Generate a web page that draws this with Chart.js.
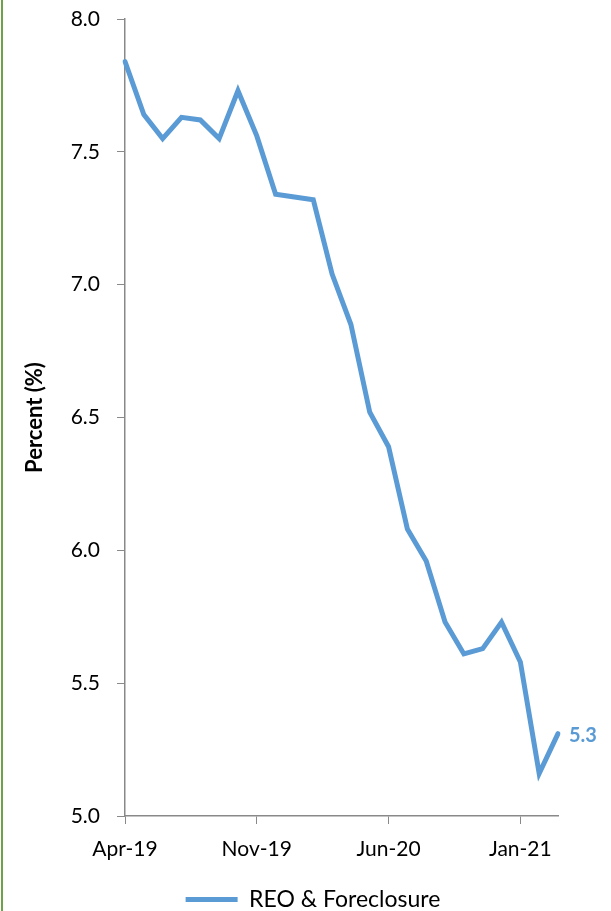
<!DOCTYPE html>
<html>
<head>
<meta charset="utf-8">
<script src="https://cdn.jsdelivr.net/npm/chart.js@4"></script>
<style>
  html, body { margin: 0; padding: 0; background: #fff; }
  #wrap { position: relative; width: 611px; height: 911px; }
  #edge { position: absolute; left: 1px; top: 0; width: 2px; height: 911px; background: #70a047; }
</style>
</head>
<body>
<div id="wrap">
  <canvas id="myChart" width="611" height="911"></canvas>
  <div id="edge"></div>
</div>
<script>
const months = [
  'Apr-19', 'May-19', 'Jun-19', 'Jul-19', 'Aug-19', 'Sep-19', 'Oct-19', 'Nov-19',
  'Dec-19', 'Jan-20', 'Feb-20', 'Mar-20', 'Apr-20', 'May-20', 'Jun-20', 'Jul-20',
  'Aug-20', 'Sep-20', 'Oct-20', 'Nov-20', 'Dec-20', 'Jan-21', 'Feb-21', 'Mar-21',
];
const reoForeclosure = [
  7.84, 7.64, 7.55, 7.63, 7.62, 7.55, 7.73, 7.56,
  7.34, 7.33, 7.32, 7.04, 6.85, 6.52, 6.39, 6.08,
  5.96, 5.73, 5.61, 5.63, 5.73, 5.58, 5.16, 5.31,
];
const yTicks = [5.0, 5.5, 6.0, 6.5, 7.0, 7.5, 8.0];
const seriesName = 'REO & Foreclosure';

const BLUE = '#5b9bd5';
const AXIS = '#898989';
const FONT = 'Lato';

// label next to last point
const endLabel = {
  id: 'endLabel',
  afterDatasetsDraw(chart) {
    const meta = chart.getDatasetMeta(0);
    const last = meta.data[meta.data.length - 1];
    const val = reoForeclosure[reoForeclosure.length - 1];
    const ctx = chart.ctx;
    ctx.save();
    ctx.font = `bold 20px ${FONT}`;
    ctx.fillStyle = BLUE;
    ctx.textAlign = 'left';
    ctx.textBaseline = 'middle';
    ctx.fillText(val.toFixed(1), last.x + 11, last.y + 2);
    ctx.restore();
  },
};

// legend sits a bit right of centre in the original
const legendShift = {
  id: 'legendShift',
  afterLayout(chart) {
    chart.legend.left += 34;
    chart.legend.right += 34;
  },
};

// no extra room for half tick labels, the padding below decides the plot box
const noLabelPadding = (scale) => {
  scale.paddingTop = 0;
  scale.paddingBottom = 0;
  scale.paddingLeft = 0;
  scale.paddingRight = 0;
};

const ctx = document.getElementById('myChart').getContext('2d');

new Chart(ctx, {
  type: 'line',
  data: {
    labels: months,
    datasets: [{
      label: seriesName,
      data: reoForeclosure,
      borderColor: BLUE,
      backgroundColor: BLUE,
      borderWidth: 5,
      pointRadius: 0,
      tension: 0,
      borderCapStyle: 'round',
    }],
  },
  options: {
    responsive: false,
    animation: false,
    layout: { padding: { left: 0, right: 53, top: 19, bottom: -10 } },
    plugins: {
      tooltip: { enabled: false },
      legend: {
        position: 'bottom',
        labels: {
          usePointStyle: true,
          pointStyle: 'line',
          pointStyleWidth: 52,
          boxWidth: 52,
          padding: 10,
          color: '#000',
          font: { family: FONT, size: 23 },
        },
      },
    },
    scales: {
      x: {
        afterFit(scale) { scale.height = 62; noLabelPadding(scale); },
        border: { color: AXIS, width: 1.5 },
        grid: {
          drawOnChartArea: false,
          tickLength: 8,
          color: (c) => (c.index % 7 === 0 ? AXIS : 'rgba(0,0,0,0)'),
        },
        ticks: {
          autoSkip: false,
          maxRotation: 0,
          padding: 13,
          color: '#000',
          font: { family: FONT, size: 21 },
          callback: (v, i) => (i % 7 === 0 ? months[i] : ''),
        },
      },
      y: {
        min: yTicks[0],
        max: yTicks[yTicks.length - 1],
        afterFit(scale) { scale.width = 125; noLabelPadding(scale); },
        afterBuildTicks(scale) { scale.ticks = yTicks.map((v) => ({ value: v })); },
        border: { color: AXIS, width: 1.5 },
        grid: { drawOnChartArea: false, tickLength: 8, color: AXIS },
        ticks: {
          padding: 17,
          color: '#000',
          font: { family: FONT, size: 21 },
          callback: (v) => Number(v).toFixed(1),
        },
        title: {
          display: true,
          text: 'Percent (%)',
          color: '#000',
          padding: { top: 22, bottom: 0 },
          font: { family: FONT, size: 22, weight: 'bold' },
        },
      },
    },
  },
  plugins: [endLabel, legendShift],
});
</script>
</body>
</html>
